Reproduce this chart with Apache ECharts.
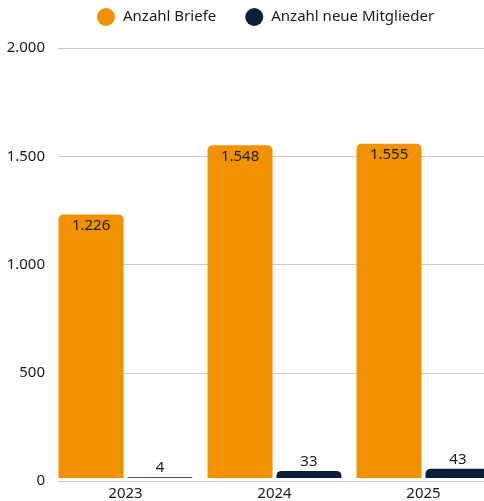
<!DOCTYPE html>
<html>
<head>
<meta charset="utf-8">
<script src="https://cdn.jsdelivr.net/npm/echarts@6/dist/echarts.min.js"></script>
<style>
  html, body { margin: 0; padding: 0; background: #fff; overflow: hidden; }
  /* wider than the window: the last bar runs past the right edge like the original */
  #chart { width: 498px; height: 501px; }
</style>
</head>
<body>
<div id="chart"></div>
<script>
const years = ['2023', '2024', '2025']
const briefe = [1226, 1548, 1555]
const mitglieder = [4, 33, 43]
const yTicks = { min: 0, max: 2000, interval: 500 }

// German thousands separator: 1548 -> 1.548
function fmt(v) {
  return String(v).replace(/\B(?=(\d{3})+(?!\d))/g, '.')
}

const font = '"Noto Sans", sans-serif'
const chart = echarts.init(document.getElementById('chart'))

chart.setOption({
  animation: false,
  textStyle: { fontFamily: font },
  legend: {
    left: 97,
    top: 8,
    padding: 0,
    icon: 'circle',
    itemWidth: 18,
    itemHeight: 18,
    itemGap: 29,
    textStyle: { fontSize: 15, color: '#1a1a1a', fontFamily: font, padding: [0, 0, 0, 3] },
    data: ['Anzahl Briefe', 'Anzahl neue Mitglieder']
  },
  grid: [
    // grid for the value axis and gridlines
    { left: 58, right: 0, top: 48, bottom: 20 },
    // grid for the bars
    { left: 51, right: 0, top: 48, bottom: 20 }
  ],
  xAxis: [
    { gridIndex: 0, type: 'value', show: false },
    {
      gridIndex: 1,
      type: 'category',
      data: years,
      axisLine: { show: false },
      axisTick: { show: false },
      axisLabel: { fontSize: 15, color: '#1a1a1a', margin: 8, fontFamily: font }
    }
  ],
  yAxis: [
    {
      gridIndex: 0,
      type: 'value',
      min: yTicks.min,
      max: yTicks.max,
      interval: yTicks.interval,
      axisLine: { show: false },
      axisTick: { show: false },
      axisLabel: { fontSize: 15, color: '#1a1a1a', margin: 13, formatter: fmt, fontFamily: font },
      splitLine: { lineStyle: { color: '#c8c8c8', width: 1 } }
    },
    {
      gridIndex: 1,
      type: 'value',
      min: yTicks.min,
      max: yTicks.max,
      show: false
    }
  ],
  series: [
    {
      name: 'Anzahl Briefe',
      type: 'bar',
      xAxisIndex: 1,
      yAxisIndex: 1,
      data: briefe,
      barWidth: 65,
      barGap: '6%',
      itemStyle: { color: '#F39200', borderRadius: [5, 5, 0, 0] },
      label: {
        show: true,
        position: 'insideTop',
        distance: 4,
        fontSize: 15,
        color: '#1a1a1a',
        fontFamily: font,
        formatter: p => fmt(p.value)
      }
    },
    {
      name: 'Anzahl neue Mitglieder',
      type: 'bar',
      xAxisIndex: 1,
      yAxisIndex: 1,
      data: mitglieder,
      barWidth: 65,
      itemStyle: { color: '#0B1F3A', borderRadius: [5, 5, 0, 0] },
      label: {
        show: true,
        position: 'top',
        distance: 2,
        fontSize: 15,
        color: '#1a1a1a',
        fontFamily: font,
        formatter: p => fmt(p.value)
      }
    }
  ]
})
</script>
</body>
</html>
